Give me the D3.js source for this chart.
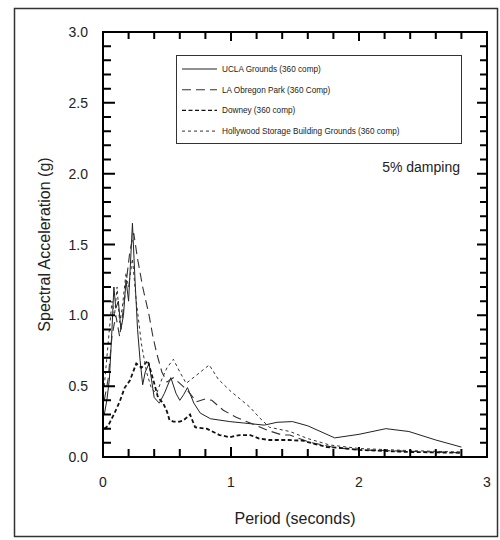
<!DOCTYPE html>
<html>
<head>
<meta charset="utf-8">
<script src="https://cdn.jsdelivr.net/npm/d3@7"></script>
<style>
  body { margin: 0; background: #fff; }
  text { font-family: "Liberation Sans", Arial, sans-serif; fill: #222; }
</style>
</head>
<body>
<svg id="chart" width="500" height="540"></svg>
<script>
// periods (s) and spectral acceleration (g)
const uclaT  = [0.01, 0.03, 0.05, 0.07, 0.085, 0.1, 0.12, 0.14, 0.16, 0.18, 0.2, 0.23, 0.25, 0.27, 0.29, 0.31, 0.33, 0.36, 0.4, 0.44, 0.48, 0.53, 0.57, 0.6, 0.63, 0.66, 0.71, 0.76, 0.84, 0.99, 1.1, 1.26, 1.36, 1.48, 1.6, 1.81, 2.0, 2.21, 2.39, 2.6, 2.8];
const uclaSA = [0.3, 0.4, 0.55, 0.9, 1.2, 1.05, 1.1, 0.9, 1.0, 1.25, 1.1, 1.65, 1.25, 0.9, 0.68, 0.51, 0.6, 0.66, 0.42, 0.38, 0.45, 0.56, 0.45, 0.4, 0.44, 0.49, 0.38, 0.31, 0.27, 0.25, 0.24, 0.225, 0.245, 0.25, 0.22, 0.135, 0.16, 0.2, 0.18, 0.12, 0.07];

const obregonT  = [0.01, 0.04, 0.07, 0.1, 0.13, 0.16, 0.19, 0.21, 0.24, 0.27, 0.31, 0.36, 0.39, 0.42, 0.46, 0.5, 0.55, 0.6, 0.66, 0.73, 0.8, 0.85, 0.94, 1.04, 1.15, 1.28, 1.4, 1.46, 1.61, 1.82, 2.0, 2.4, 2.8];
const obregonSA = [0.4, 0.55, 0.85, 1.0, 0.85, 1.05, 1.3, 1.45, 1.58, 1.4, 1.2, 1.0, 0.85, 0.73, 0.6, 0.53, 0.56, 0.52, 0.47, 0.39, 0.41, 0.4, 0.33, 0.28, 0.24, 0.19, 0.155, 0.155, 0.105, 0.065, 0.05, 0.04, 0.03];

const downeyT  = [0.01, 0.04, 0.09, 0.13, 0.17, 0.21, 0.26, 0.3, 0.35, 0.4, 0.43, 0.47, 0.5, 0.52, 0.55, 0.6, 0.63, 0.68, 0.72, 0.81, 0.91, 0.99, 1.07, 1.15, 1.22, 1.3, 1.45, 1.56, 1.75, 1.85, 2.0, 2.4, 2.8];
const downeySA = [0.2, 0.22, 0.31, 0.39, 0.49, 0.54, 0.66, 0.63, 0.68, 0.52, 0.42, 0.38, 0.32, 0.26, 0.25, 0.25, 0.26, 0.3, 0.21, 0.2, 0.155, 0.14, 0.155, 0.155, 0.13, 0.12, 0.12, 0.115, 0.07, 0.065, 0.05, 0.035, 0.03];

const hollyT  = [0.01, 0.04, 0.07, 0.09, 0.11, 0.13, 0.15, 0.18, 0.2, 0.23, 0.26, 0.3, 0.34, 0.38, 0.42, 0.46, 0.5, 0.55, 0.6, 0.65, 0.72, 0.83, 0.9, 0.99, 1.07, 1.15, 1.22, 1.3, 1.46, 1.6, 1.77, 2.0, 2.4, 2.8];
const hollySA = [0.5, 0.8, 1.1, 1.0, 1.2, 0.95, 1.05, 1.3, 1.2, 1.4, 1.1, 0.8, 0.6, 0.48, 0.45, 0.55, 0.63, 0.69, 0.6, 0.52, 0.57, 0.65, 0.55, 0.47, 0.41, 0.35, 0.28, 0.21, 0.18, 0.13, 0.085, 0.06, 0.045, 0.035];

const seriesNames = [
  "UCLA Grounds (360 comp)",
  "LA Obregon Park (360 Comp)",
  "Downey (360 comp)",
  "Hollywood Storage Building Grounds (360 comp)"
];

const xTicks = [0, 1, 2, 3];
const yTicks = [0.0, 0.5, 1.0, 1.5, 2.0, 2.5, 3.0];
const xMinorTicks = [0, 0.2, 0.4, 0.6, 0.8, 1, 1.2, 1.4, 1.6, 1.8, 2, 2.2, 2.4, 2.6, 2.8, 3];
const yMinorTicks = [0, 0.1, 0.2, 0.3, 0.4, 0.5, 0.6, 0.7, 0.8, 0.9, 1, 1.1, 1.2, 1.3, 1.4, 1.5, 1.6, 1.7, 1.8, 1.9, 2, 2.1, 2.2, 2.3, 2.4, 2.5, 2.6, 2.7, 2.8, 2.9, 3];

const svg = d3.select("#chart");

const x = d3.scaleLinear().domain([0, 3]).range([103, 487]);
const y = d3.scaleLinear().domain([0, 3]).range([457, 32]);

// outer frame of the figure
svg.append("rect")
  .attr("x", 14.5).attr("y", 8.5)
  .attr("width", 483).attr("height", 528)
  .attr("fill", "none").attr("stroke", "#333").attr("stroke-width", 1.5);

// tick labels
svg.append("g").selectAll("text").data(xTicks).join("text")
  .attr("x", d => x(d)).attr("y", y(0) + 30)
  .attr("text-anchor", "middle").attr("font-size", 14)
  .text(d => d);

svg.append("g").selectAll("text").data(yTicks).join("text")
  .attr("x", x(0) - 15).attr("y", d => y(d) + 5)
  .attr("text-anchor", "end").attr("font-size", 14)
  .text(d => d.toFixed(1));

// axis titles
svg.append("text")
  .attr("transform", `translate(50, ${(y(0) + y(3)) / 2}) rotate(-90)`)
  .attr("text-anchor", "middle").attr("font-size", 16)
  .text("Spectral Acceleration (g)");

svg.append("text")
  .attr("x", (x(0) + x(3)) / 2).attr("y", 524)
  .attr("text-anchor", "middle").attr("font-size", 16)
  .text("Period (seconds)");

// series
const styles = [
  { dash: null, width: 1.0, color: "#222" },
  { dash: "9,5", width: 1.1, color: "#333" },
  { dash: "4,2.5", width: 1.8, color: "#111" },
  { dash: "3,3", width: 1.0, color: "#333" }
];
const data = [
  d3.zip(uclaT, uclaSA),
  d3.zip(obregonT, obregonSA),
  d3.zip(downeyT, downeySA),
  d3.zip(hollyT, hollySA)
];

const line = d3.line().x(d => x(d[0])).y(d => y(d[1]));

svg.append("g").selectAll("path").data(data).join("path")
  .attr("d", line)
  .attr("fill", "none")
  .attr("stroke", (d, i) => styles[i].color)
  .attr("stroke-width", (d, i) => styles[i].width)
  .attr("stroke-dasharray", (d, i) => styles[i].dash);

// legend
const lg = svg.append("g");
lg.append("rect")
  .attr("x", 176.5).attr("y", 55.5).attr("width", 285).attr("height", 88)
  .attr("fill", "#fff").attr("stroke", "#333").attr("stroke-width", 1);

const rows = lg.selectAll("g.row").data(seriesNames).join("g")
  .attr("transform", (d, i) => `translate(0, ${69 + i * 20.7})`);

rows.append("line")
  .attr("x1", 182).attr("x2", 217).attr("y1", 0).attr("y2", 0)
  .attr("stroke", (d, i) => styles[i].color)
  .attr("stroke-width", (d, i) => Math.min(styles[i].width, 1.4))
  .attr("stroke-dasharray", (d, i) => styles[i].dash);

rows.append("text")
  .attr("x", 222).attr("y", 3)
  .attr("font-size", 8.2)
  .text(d => d);

svg.append("text")
  .attr("x", 460).attr("y", 172)
  .attr("text-anchor", "end").attr("font-size", 14)
  .text("5% damping");

// plot box and inward ticks, drawn last as one path
const isMajorX = v => xTicks.includes(v);
const isMajorY = v => yTicks.includes(v);
let frame = `M${x(0)},${y(3)}H${x(3)}V${y(0)}H${x(0)}Z`;
xMinorTicks.forEach(v => {
  frame += `M${x(v)},${y(0)}v${-(isMajorX(v) ? 10 : 8)}`;
  frame += `M${x(v)},${y(3)}v${isMajorX(v) ? 9 : 7}`;
});
yMinorTicks.forEach(v => {
  frame += `M${x(0)},${y(v)}h${isMajorY(v) ? 12 : 8}`;
  frame += `M${x(3)},${y(v)}h${-(isMajorY(v) ? 10 : 7)}`;
});
svg.append("path")
  .attr("d", frame)
  .attr("fill", "none")
  .attr("stroke", "#000")
  .attr("stroke-width", 2);
</script>
</body>
</html>
